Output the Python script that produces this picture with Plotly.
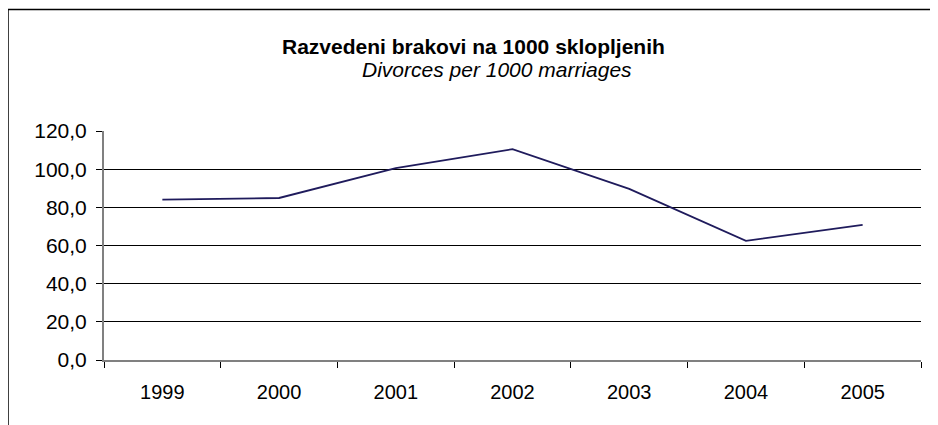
import plotly.graph_objects as go

years = ["1999", "2000", "2001", "2002", "2003", "2004", "2005"]
divorces = [84.0, 84.9, 100.5, 110.5, 89.7, 62.4, 70.8]
y_ticks = [0, 20, 40, 60, 80, 100, 120]

# page is offset by the 8px body margin; work in page pixels
OFF = 8
PL, PR, PT, PB = 104, 921, 130.7, 360
W, H = 938 - OFF, 425 - OFF
PW, PH = PR - PL, PB - PT


def px(x):
    return (x - PL) / PW


def py(y):
    return (PB - y) / PH


fig = go.Figure()
fig.add_trace(go.Scatter(
    x=years, y=divorces, mode="lines",
    line=dict(color="#1f1b5c", width=1.8),
    showlegend=False, hoverinfo="x+y",
))

fig.update_layout(
    width=W, height=H,
    margin=dict(l=PL - OFF, r=W - (PR - OFF), t=PT - OFF, b=H - (PB - OFF), pad=0),
    paper_bgcolor="white", plot_bgcolor="white",
    separators=",.",
    font=dict(family="Liberation Sans, Arial, sans-serif", size=21, color="black"),
    xaxis=dict(
        type="category", range=[-0.5, 6.5],
        showline=True, linecolor="#808080", linewidth=2,
        ticks="outside", tickson="boundaries", ticklen=6, tickcolor="black", tickwidth=1,
        showgrid=False, zeroline=False,
        tickfont=dict(size=20), ticklabelstandoff=13,
    ),
    yaxis=dict(
        range=[0, 120], tickvals=y_ticks, tickformat=".1f",
        showline=True, linecolor="#808080", linewidth=2,
        ticks="outside", ticklen=6, tickcolor="black", tickwidth=1,
        showgrid=True, gridcolor="black", gridwidth=1,
        zeroline=False, tickfont=dict(size=21), ticklabelstandoff=5,
    ),
    annotations=[
        dict(text="<b>Razvedeni brakovi na 1000 sklopljenih</b>", xref="paper", yref="paper",
             x=px(473), y=py(46), showarrow=False,
             xanchor="center", yanchor="middle", font=dict(size=21)),
        dict(text="<i>Divorces per 1000 marriages</i>", xref="paper", yref="paper",
             x=px(497), y=py(69), showarrow=False,
             xanchor="center", yanchor="middle", font=dict(size=21)),
    ],
    shapes=[
        dict(type="line", xref="paper", yref="paper",
             x0=px(8), x1=px(8), y0=py(9), y1=py(440),
             line=dict(color="black", width=1.5)),
        dict(type="line", xref="paper", yref="paper",
             x0=px(8), x1=px(950), y0=py(9), y1=py(9),
             line=dict(color="black", width=1.5)),
    ],
)

fig.write_html("out.html")
